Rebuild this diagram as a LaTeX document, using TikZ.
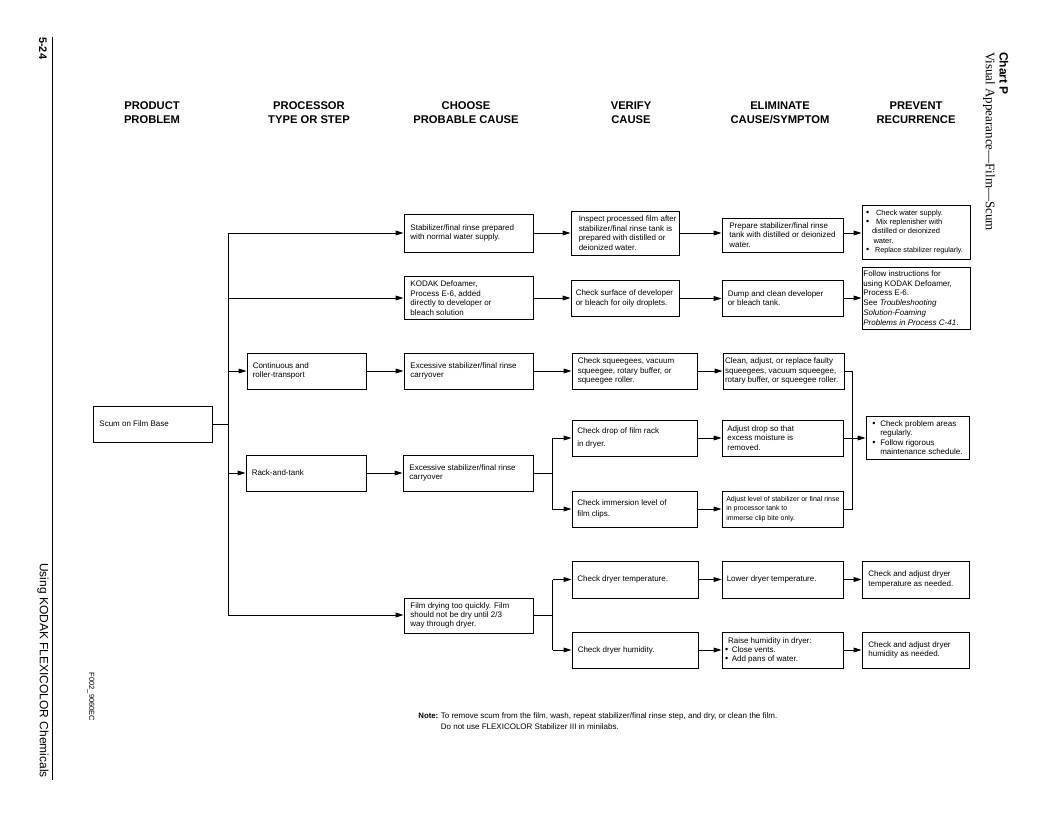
\documentclass[tikz,border=0pt]{standalone}
\usepackage{fontspec}
\setmainfont{Liberation Sans}
\newfontfamily\seriffont{Liberation Serif}
\usetikzlibrary{arrows.meta}
\newcommand\bul[1]{\makebox[#1][l]{\raisebox{-0.2pt}{\fontsize{9}{9}\selectfont •}}}
\newcommand\bxn[7][]{%
  \node[bxr, minimum width=#4, minimum height=#5] (#2) at (#3) {};
  \node[txt,#1] (#2-t) at ([xshift=#6]#2.west) {#7};}
\begin{document}
\begin{tikzpicture}[x=1pt,y=-1pt,
  bxr/.style={draw=black, line width=0.9pt, inner sep=0pt, anchor=center},
  txt/.style={anchor=west, align=left, inner sep=0pt, font=\fontsize{8}{9.7}\selectfont},
  arr/.style={-{Triangle[length=8pt,width=4.8pt]}, line width=0.9pt},
  ln/.style={line width=0.9pt},
  hd/.style={font=\bfseries\fontsize{11.2}{13.3}\selectfont, align=center, inner sep=0pt}]
\useasboundingbox (0,0) rectangle (1056,816);

% headers
\node[hd] (h1) at (152,112.7) {PRODUCT\\PROBLEM};
\node[hd] (h2) at (309,112.7) {PROCESSOR\\TYPE OR STEP};
\node[hd] (h3) at (466,112.7) {CHOOSE\\PROBABLE CAUSE};
\node[hd] (h4) at (631,112.7) {VERIFY\\CAUSE};
\node[hd] (h5) at (780,112.7) {ELIMINATE\\CAUSE/SYMPTOM};
\node[hd] (h6) at (916,112.7) {PREVENT\\RECURRENCE};

% side texts
\node[rotate=-90, anchor=west, font=\bfseries\fontsize{11}{13}\selectfont, inner sep=0pt] (pg) at (43,37) {5-24};
\draw[line width=0.8pt] (52,37) -- (52,780);
\node[rotate=-90, anchor=east, font=\fontsize{12}{14}\selectfont, inner sep=0pt] (foot) at (43,778) {Using KODAK FLEXICOLOR Chemicals};
\node[rotate=-90, anchor=center, font=\fontsize{7.5}{8}\selectfont, inner sep=0pt] (fig) at (91,697) {F002\_9060EC};
\node[rotate=-90, anchor=west, font=\bfseries\fontsize{12}{14}\selectfont, inner sep=0pt] (chart) at (1004,52) {Chart P};
\node[rotate=-90, anchor=west, font=\seriffont\fontsize{13}{15}\selectfont, inner sep=0pt] (vis) at (989,52) {Visual Appearance—Film—Scum};

% column A / B
\bxn{A}{152.5,424}{119pt}{36pt}{6.7pt}{Scum on Film Base}
\bxn{B1}{306.5,371}{119pt}{36pt}{6pt}{Continuous and\\roller-transport}
\bxn{B2}{306,473}{120pt}{36pt}{6pt}{Rack-and-tank}

% column C
\bxn{C1}{468.5,233}{129pt}{38pt}{6.7pt}{Stabilizer/final rinse prepared\\with normal water supply.}
\bxn{C2}{468.5,298}{129pt}{43pt}{6.7pt}{KODAK Defoamer,\\Process E-6, added\\directly to developer or\\bleach solution}
\bxn{C3}{468.5,371}{129pt}{36pt}{6.7pt}{Excessive stabilizer/final rinse\\carryover}
\bxn{C4}{468,473}{130pt}{36pt}{6.7pt}{Excessive stabilizer/final rinse\\carryover}
\bxn[font=\fontsize{8}{8.7}\selectfont]{C5}{468.5,615.5}{129pt}{35pt}{6.7pt}{Film drying too quickly. Film\\should not be dry until 2/3\\way through dryer.}

% column D
\bxn{D1}{625,233}{108pt}{44pt}{8pt}{Inspect processed film after\\stabilizer/final rinse tank is\\prepared with distilled or\\deionized water.}
\bxn{D2}{625,298.5}{108pt}{36pt}{5pt}{Check surface of developer\\or bleach for oily droplets.}
\bxn{D3}{634.5,371}{125pt}{36pt}{6pt}{Check squeegees, vacuum\\squeegee, rotary buffer, or\\squeegee roller.}
\bxn{D4}{634.5,438}{125pt}{36pt}{5.5pt}{Check drop of film rack\\[2.6pt]in dryer.}
\bxn{D5}{634.5,509}{125pt}{36pt}{5.5pt}{Check immersion level of\\[1pt]film clips.}
\bxn{D6}{635,579.5}{126pt}{37pt}{5.6pt}{Check dryer temperature.}
\bxn{D7}{635,650}{126pt}{36pt}{6pt}{Check dryer humidity.}

% column E
\bxn{E1}{782.5,235}{121pt}{34pt}{7.6pt}{Prepare stabilizer/final rinse\\tank with distilled or deionized\\water.}
\bxn{E2}{782.5,298}{121pt}{36pt}{6pt}{Dump and clean developer\\or bleach tank.}
\bxn{E3}{783.5,371}{121pt}{36pt}{2.3pt}{Clean, adjust, or replace faulty\\squeegees, vacuum squeegee,\\rotary buffer, or squeegee roller.}
\bxn[font=\fontsize{8}{9.2}\selectfont]{E4}{782.5,438}{121pt}{36pt}{5.6pt}{Adjust drop so that\\excess moisture is\\removed.}
\bxn[font=\fontsize{7}{9.2}\selectfont]{E5}{782.5,509}{121pt}{36pt}{4.5pt}{Adjust level of stabilizer or final rinse\\in processor tank to\\immerse clip bite only.}
\bxn{E6}{782.5,579.5}{121pt}{37pt}{5pt}{Lower dryer temperature.}
\bxn[font=\fontsize{8}{9}\selectfont]{E7}{782.5,650}{121pt}{36pt}{3.3pt}{\hspace*{3pt}Raise humidity in dryer:\\\bul{6.7pt}Close vents.\\\bul{6.7pt}Add pans of water.}

% column F
\bxn[font=\fontsize{7.5}{9.3}\selectfont]{F1}{916,232}{108pt}{54pt}{4.3pt}{\bul{10pt}Check water supply.\\\bul{10pt}Mix replenisher with\\\hspace*{6pt}distilled or deionized\\\hspace*{7.5pt}water.\\\bul{9pt}{\fontsize{7.2}{9.3}\selectfont Replace stabilizer regularly.}}
\bxn[font=\fontsize{8}{9.8}\selectfont]{F2}{916,298}{108pt}{62pt}{1.6pt}{Follow instructions for\\using KODAK Defoamer,\\Process E-6.\\See \textit{Troubleshooting}\\\textit{Solution-Foaming}\\\textit{Problems in Process C-41}.}
\bxn[font=\fontsize{8}{9.3}\selectfont]{F3}{917.5,437.5}{103pt}{43pt}{6.5pt}{\bul{8pt}Check problem areas\\\hspace*{8pt}regularly.\\\bul{8pt}Follow rigorous\\\hspace*{8pt}maintenance schedule.}
\bxn{F4}{915.5,579.5}{107pt}{37pt}{6.6pt}{Check and adjust dryer\\temperature as needed.}
\bxn{F5}{915.5,650}{107pt}{36pt}{6.6pt}{Check and adjust dryer\\humidity as needed.}

% trunk
\coordinate (tr) at (228,424);
\coordinate (tr5) at (228,615);
\draw[ln] (A.east) -- (A.east -| tr);
\draw[ln] (C1.west -| tr) -- (tr5);
\draw[arr] (C1.west -| tr) -- (C1.west);
\draw[arr] (C2.west -| tr) -- (C2.west);
\draw[arr] (B1.west -| tr) -- (B1.west);
\draw[arr] (B2.west -| tr) -- (B2.west);
\draw[arr] (tr5) -- (tr5 -| C5.west);

% row 1, 2
\draw[arr] (C1.east) -- (C1.east -| D1.west);
\draw[arr] (D1.east) -- (D1.east -| E1.west);
\draw[arr] (E1.east |- D1.east) -- (F1.west |- D1.east);
\draw[arr] (C2.east) -- (C2.east -| D2.west);
\draw[arr] (D2.east) -- (D2.east -| E2.west);
\draw[arr] (E2.east) -- (E2.east -| F2.west);

% row 3
\draw[arr] (B1.east) -- (C3.west);
\draw[arr] (C3.east) -- (D3.west);
\draw[arr] (D3.east) -- (E3.west);

% row 4
\draw[arr] (B2.east) -- (C4.west);
\coordinate (s4) at (552,473);
\draw[ln] (C4.east) -- (C4.east -| s4);
\draw[ln] (D4.west -| s4) -- (D5.west -| s4);
\draw[arr] (D4.west -| s4) -- (D4.west);
\draw[arr] (D5.west -| s4) -- (D5.west);
\draw[arr] (D4.east) -- (E4.west |- D4.east);
\draw[arr] (D5.east) -- (E5.west |- D5.east);

% merge
\coordinate (mg) at (852,438);
\draw[ln] (E3.east) -- (E3.east -| mg) -- (E5.east -| mg) -- (E5.east);
\draw[arr] (E4.east) -- (E4.east -| F3.west);

% row 5 split
\coordinate (s5) at (552.5,615);
\draw[ln] (C5.east |- s5) -- (s5);
\draw[ln] (D6.west -| s5) -- (D7.west -| s5);
\draw[arr] (D6.west -| s5) -- (D6.west);
\draw[arr] (D7.west -| s5) -- (D7.west);
\draw[arr] (D6.east) -- (E6.west);
\draw[arr] (E6.east) -- (F4.west);
\draw[arr] (D7.east) -- (E7.west);
\draw[arr] (E7.east) -- (F5.west);

% note
\node[anchor=base east, font=\bfseries\fontsize{7.8}{9}\selectfont, inner sep=0pt] (nl) at (438.5,718.5) {Note:};
\node[anchor=base west, font=\fontsize{8}{11}\selectfont, inner sep=0pt] (nt1) at (440.7,718.5) {To remove scum from the film, wash, repeat stabilizer/final rinse step, and dry, or clean the film.};
\node[anchor=base west, font=\fontsize{8}{11}\selectfont, inner sep=0pt] (nt2) at (440.7,729.5) {Do not use FLEXICOLOR Stabilizer III in minilabs.};
\end{tikzpicture}
\end{document}
